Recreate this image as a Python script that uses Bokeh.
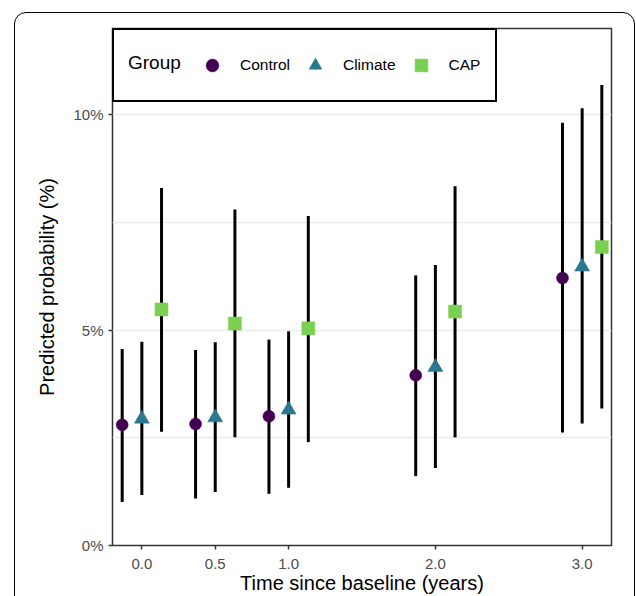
from bokeh.plotting import figure
from bokeh.models import (ColumnDataSource, FixedTicker, PrintfTickFormatter, Legend,
                          LegendItem, Range1d, InlineStyleSheet)
from bokeh.embed import file_html
from bokeh.resources import INLINE

# ---- data ----
times = [0.0, 0.5, 1.0, 2.0, 3.0]
groups = ["Control", "Climate", "CAP"]

control_est = [2.80, 2.82, 3.00, 3.95, 6.21]
control_lo = [1.01, 1.09, 1.20, 1.61, 2.62]
control_hi = [4.56, 4.54, 4.78, 6.27, 9.81]

climate_est = [2.94, 2.97, 3.15, 4.14, 6.47]
climate_lo = [1.17, 1.24, 1.34, 1.80, 2.83]
climate_hi = [4.73, 4.72, 4.97, 6.51, 10.15]

cap_est = [5.48, 5.15, 5.04, 5.43, 6.93]
cap_lo = [2.64, 2.51, 2.40, 2.51, 3.18]
cap_hi = [8.30, 7.80, 7.65, 8.34, 10.69]

x_ticks = [0.0, 0.5, 1.0, 2.0, 3.0]
y_ticks = [0, 5, 10]
y_minor = [2.5, 7.5]
legend_title = "Group"

# ---- styles ----
colors = {"Control": "#440154", "Climate": "#2A788E", "CAP": "#7AD151"}
markers = {"Control": "circle", "Climate": "triangle", "CAP": "square"}
sizes = {"Control": 12, "Climate": 15, "CAP": 13}
dodge = {"Control": -0.134, "Climate": 0.0, "CAP": 0.134}
FONT = "Liberation Sans"

series = {
    "Control": (control_est, control_lo, control_hi),
    "Climate": (climate_est, climate_lo, climate_hi),
    "CAP": (cap_est, cap_lo, cap_hi),
}

# outer rounded frame (decoration, drawn with CSS on the plot's host element)
frame_css = InlineStyleSheet(css="""
:host { position: relative; overflow: hidden; }
:host::after {
  content: ""; position: absolute; left: 14px; top: 12px;
  width: 621px; height: 600px; box-sizing: border-box;
  border: 1.5px solid #000000; border-radius: 12px;
  pointer-events: none; z-index: 100;
}
""")

p = figure(width=636, height=596, output_backend="svg", toolbar_location=None,
           x_range=Range1d(-0.2, 3.2), y_range=Range1d(0, 12),
           min_border_left=112, min_border_right=25, min_border_top=28,
           min_border_bottom=48)
p.stylesheets = [frame_css]
p.background_fill_color = "white"
p.border_fill_color = "white"
p.outline_line_color = "#333333"
p.outline_line_width = 1.5

renderers = {}
for g in groups:
    est, lo, hi = series[g]
    xs = [t + dodge[g] for t in times]
    src = ColumnDataSource(dict(x=xs, est=est, lo=lo, hi=hi))
    p.segment(x0="x", y0="lo", x1="x", y1="hi", source=src,
              line_color="black", line_width=3)
for g in groups:
    est, lo, hi = series[g]
    xs = [t + dodge[g] for t in times]
    src = ColumnDataSource(dict(x=xs, est=est))
    renderers[g] = p.scatter(x="x", y="est", source=src, marker=markers[g],
                             size=sizes[g], fill_color=colors[g],
                             line_color=colors[g], line_width=0.5)

# invisible renderer used as a spacer for the legend title
spacer = p.scatter(x=[], y=[], marker="circle", size=1, fill_alpha=0, line_alpha=0)

# axes
p.xaxis.ticker = FixedTicker(ticks=x_ticks)
p.xaxis.formatter = PrintfTickFormatter(format="%.1f")
p.yaxis.ticker = FixedTicker(ticks=y_ticks, minor_ticks=y_minor)
p.yaxis.formatter = PrintfTickFormatter(format="%d%%")
for ax in (p.xaxis[0], p.yaxis[0]):
    ax.axis_line_color = None
    ax.major_tick_line_color = "#333333"
    ax.major_tick_line_width = 1.5
    ax.major_tick_out = 4
    ax.major_tick_in = 0
    ax.minor_tick_line_color = None
    ax.major_label_text_font = FONT
    ax.major_label_text_font_size = "15px"
    ax.major_label_text_color = "#4d4d4d"
    ax.axis_label_text_font = FONT
    ax.axis_label_text_font_size = "20px"
    ax.axis_label_text_font_style = "normal"
    ax.axis_label_text_color = "black"
p.xaxis.major_label_standoff = 9
p.yaxis.major_label_standoff = 5
p.xaxis.axis_label = "Time since baseline (years)"
p.yaxis.axis_label = "Predicted probability (%)"
p.xaxis.axis_label_standoff = 0
p.yaxis.axis_label_standoff = 12

p.xgrid.grid_line_color = None
p.ygrid.ticker = FixedTicker(ticks=y_ticks, minor_ticks=y_minor)
p.ygrid.grid_line_color = "#ebebeb"
p.ygrid.grid_line_width = 1.5
p.ygrid.minor_grid_line_color = "#ebebeb"
p.ygrid.minor_grid_line_width = 1.5

# main legend (items), with a blank first slot that leaves room for the title
items = [LegendItem(label=" ", renderers=[spacer])]
items += [LegendItem(label=g, renderers=[renderers[g]]) for g in groups]
legend = Legend(items=items, location="top_left", orientation="horizontal")
legend.margin = 0
legend.padding = 15
legend.spacing = 9
legend.glyph_width = 32
legend.glyph_height = 40
legend.label_height = 40
legend.label_width = 14
legend.label_standoff = 12
legend.label_text_font = FONT
legend.label_text_font_size = "15.5px"
legend.label_text_color = "black"
legend.border_line_color = "black"
legend.border_line_alpha = 1.0
legend.border_line_width = 2
legend.background_fill_color = "white"
legend.background_fill_alpha = 0
p.add_layout(legend)

# second legend that only shows the horizontal title "Group"
title_legend = Legend(items=[LegendItem(label=legend_title, renderers=[spacer])],
                      location="top_left", orientation="horizontal")
title_legend.margin = 15
title_legend.padding = 0
title_legend.glyph_width = 1
title_legend.glyph_height = 40
title_legend.label_height = 40
title_legend.label_width = 20
title_legend.label_standoff = 0
title_legend.label_text_font = FONT
title_legend.label_text_font_size = "19px"
title_legend.label_text_color = "black"
title_legend.border_line_color = None
title_legend.background_fill_alpha = 0
p.add_layout(title_legend)

open("out.html", "w").write(file_html(p, INLINE))
